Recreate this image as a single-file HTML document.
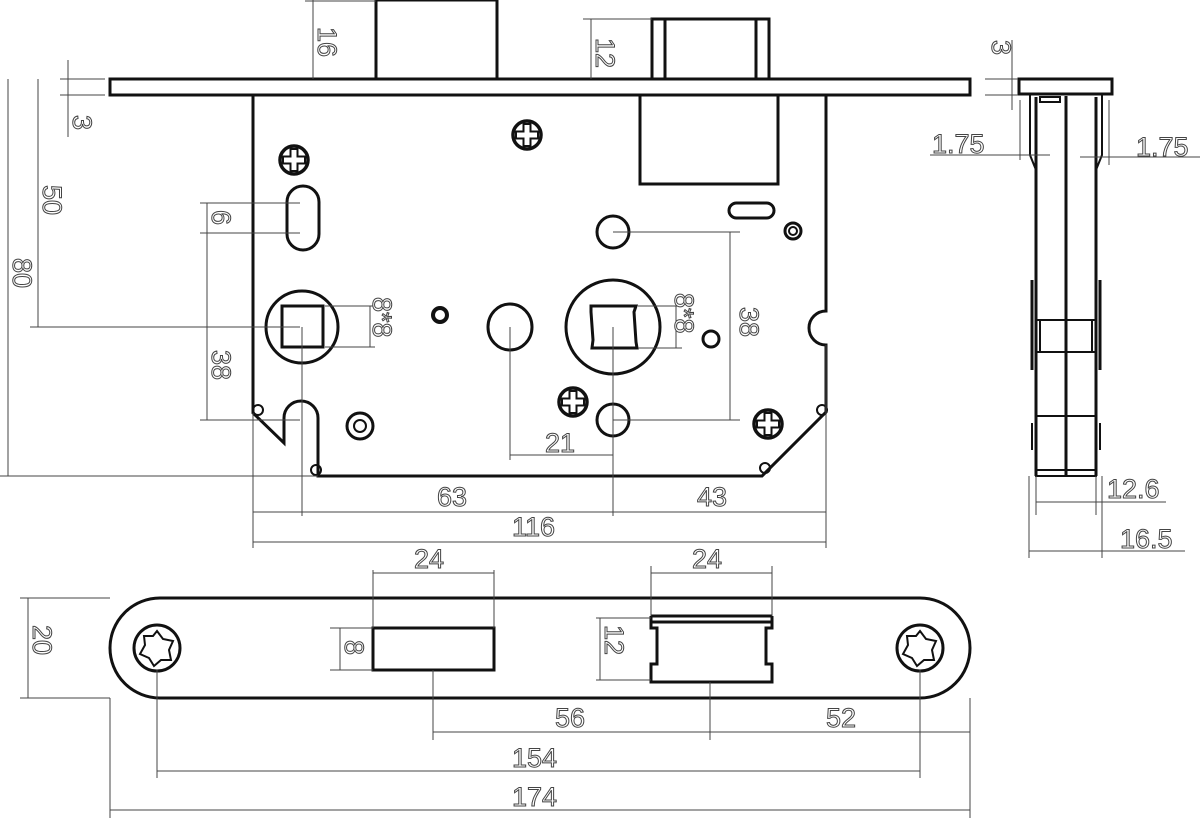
<!DOCTYPE html>
<html><head><meta charset="utf-8"><style>
html,body{margin:0;padding:0;background:#fff}
svg{display:block}
.k{stroke:#111;fill:none;stroke-width:3}
.m{stroke:#111;fill:none;stroke-width:2}
.d{stroke:#444;fill:none;stroke-width:1}
text{font-family:"Liberation Sans",sans-serif;font-size:27px;fill:#fff;stroke:#444;stroke-width:1;font-weight:normal}
</style></head><body>
<svg width="1200" height="818" viewBox="0 0 1200 818" xmlns="http://www.w3.org/2000/svg">
<defs>
<g id="ph"><circle r="14" stroke="#111" stroke-width="3.5" fill="none"/><path d="M-3.5,-11h7v7.5h7.5v7h-7.5v7.5h-7v-7.5h-7.5v-7h7.5z" stroke="#111" stroke-width="2" fill="none"/></g>
<g id="star"><ellipse rx="23" ry="23" class="k"/>
<path d="M0,-17 L6,-9 L16,-7 L12,2 L14,12 L4,12 L-3,18 L-8,10 L-17,6 L-12,-3 L-13,-12 L-4,-12 Z" class="m"/></g>
</defs>

<rect x="376" y="0" width="121" height="79" class="k"/>
<rect x="652" y="19" width="117" height="60" class="k"/>
<line x1="665" y1="19" x2="665" y2="79" class="k"/><line x1="756" y1="19" x2="756" y2="79" class="k"/>
<rect x="110" y="79" width="860" height="16" class="k"/>
<path d="M253,95 V413 L284,443 V418 A17,17 0 0 1 318,418 V476 H762 L826,412 V345 A17,17 0 0 1 826,311 V95" class="k"/>
<circle cx="258" cy="410" r="5" class="m"/><circle cx="316" cy="470" r="5" class="m"/>
<circle cx="765" cy="468" r="5" class="m"/><circle cx="822" cy="410" r="5" class="m"/>
<rect x="640" y="95" width="138" height="89" class="k"/>
<use href="#ph" x="294" y="160"/><use href="#ph" x="527" y="135"/>
<use href="#ph" x="573" y="402"/><use href="#ph" x="768" y="424"/>
<rect x="287" y="186" width="32" height="64" rx="16" class="k"/>
<rect x="729" y="203" width="45" height="15" rx="7.5" class="k"/>
<circle cx="793" cy="231" r="8" class="k"/><circle cx="793" cy="231" r="4" class="m"/>
<circle cx="302" cy="327" r="36" class="k"/><rect x="282" y="306" width="41" height="41" class="k"/>
<circle cx="440" cy="315" r="7" stroke="#111" stroke-width="4" fill="none"/>
<ellipse cx="510" cy="327" rx="22" ry="23" class="k"/>
<circle cx="613" cy="327" r="47" class="k"/>
<path d="M591,306 L636,306 L634,312 L636,342 L637,348 L592,348 L593,340 L591,312 Z" class="k"/>
<circle cx="711" cy="339" r="8" class="k"/>
<circle cx="613" cy="232" r="16" class="k"/><circle cx="613" cy="420" r="16" class="k"/>
<circle cx="360" cy="426" r="13" class="k"/><circle cx="360" cy="426" r="6" class="m"/>

<g class="d">
<path d="M313,0V79 M305,1H376"/>
<path d="M591,19V79 M583,19H652"/>
<path d="M68,60V137 M60,79H105 M60,95H105"/>
<path d="M38,79V327 M30,327H300"/>
<path d="M8,79V476 M0,476H318"/>
<path d="M207,203V420 M200,203H300 M200,233H300 M200,420H300"/>
<path d="M325,306H375 M325,347H375 M370,306V347"/>
<path d="M638,306H682 M638,348H682 M676,306V348"/>
<path d="M730,232V420 M613,232H740 M613,420H740"/>
<path d="M510,327V460 M510,455H613 M613,327V516"/>
<path d="M302,327V516 M253,512H826 M826,345V548 M253,413V548 M253,542H826"/>
</g>
<text transform="translate(318,27) rotate(90)">16</text>
<text transform="translate(596,38) rotate(90)">12</text>
<text transform="translate(73,115) rotate(90)">3</text>
<text transform="translate(43,185) rotate(90)">50</text>
<text transform="translate(13,258) rotate(90)">80</text>
<text transform="translate(212,210) rotate(90)">6</text>
<text transform="translate(212,350) rotate(90)">38</text>
<text transform="translate(740,307) rotate(90)">38</text>
<text transform="translate(373,297) rotate(90)" font-size="24">8*8</text>
<text transform="translate(675,293) rotate(90)" font-size="24">8*8</text>
<text x="545" y="452">21</text>
<text x="437" y="506">63</text>
<text x="697" y="506">43</text>
<text x="512" y="536">116</text>

<rect x="1019" y="79" width="93" height="15" class="k"/>
<path d="M1030,95 V155 L1036,170 V476 H1096 V170 L1102,155 V95" class="m"/>
<path d="M1036,97V476 M1096,97V476" class="k"/>
<line x1="1066" y1="96" x2="1066" y2="476" class="k"/>
<rect x="1040" y="97" width="20" height="5" class="m"/>
<path d="M1032,280V370 M1100,280V370" class="k"/>
<path d="M1036,320H1096 M1036,352H1096 M1040,320V352 M1092,320V352" class="m"/>
<path d="M1036,416H1096 M1032,423V450 M1100,423V450 M1036,470H1096" class="m"/>
<g class="d">
<path d="M1012,40V110 M985,79H1018 M985,95H1018"/>
<path d="M930,155H1050 M1020,100V160"/>
<path d="M1080,157H1200 M1109,100V165"/>
<path d="M1036,476V515 M1096,476V515 M1036,502H1166"/>
<path d="M1029,476V558 M1102,476V558 M1029,551H1185"/>
</g>
<text transform="translate(992,40) rotate(90)">3</text>
<text x="932" y="153">1.75</text>
<text x="1136" y="156">1.75</text>
<text x="1107" y="498">12.6</text>
<text x="1120" y="548">16.5</text>

<rect x="110" y="598" width="860" height="100" rx="50" class="k"/>
<use href="#star" x="157" y="648"/><use href="#star" x="920" y="648"/>
<rect x="373" y="628" width="121" height="42" class="k"/>
<path d="M651,616H772 M651,622H772 M651,616V628 H657V664 H651V682 H772V664 H766V628 H772V616" class="k"/>
<g class="d">
<path d="M373,570V628 M494,570V628 M373,573H494"/>
<path d="M651,566V616 M772,566V616 M651,573H772"/>
<path d="M28,598V698 M20,598H110 M20,698H110"/>
<path d="M340,628V670 M330,628H373 M330,670H373"/>
<path d="M600,618V680 M596,618H651 M596,680H651"/>
<path d="M433,670V740 M710,682V740 M433,732H970 M970,698V818"/>
<path d="M157,670V778 M920,670V778 M157,771H920"/>
<path d="M110,698V818 M110,810H970"/>
</g>
<text x="414" y="568">24</text>
<text x="692" y="568">24</text>
<text transform="translate(33,625) rotate(90)">20</text>
<text transform="translate(345,640) rotate(90)">8</text>
<text transform="translate(605,625) rotate(90)">12</text>
<text x="555" y="727">56</text>
<text x="826" y="727">52</text>
<text x="512" y="767">154</text>
<text x="512" y="806">174</text>
</svg>
</body></html>
